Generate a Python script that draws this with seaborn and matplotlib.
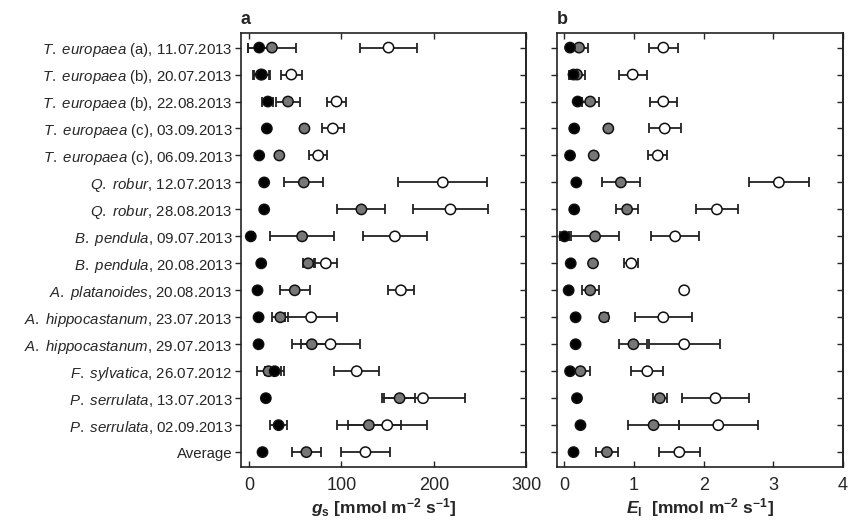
import numpy as np
import pandas as pd
import matplotlib
matplotlib.use("Agg")
import matplotlib.pyplot as plt
import seaborn as sns

# row labels (top to bottom)
species = ["T. europaea", "T. europaea", "T. europaea", "T. europaea", "T. europaea",
           "Q. robur", "Q. robur", "B. pendula", "B. pendula", "A. platanoides",
           "A. hippocastanum", "A. hippocastanum", "F. sylvatica", "P. serrulata",
           "P. serrulata", ""]
suffix = [" (a), 11.07.2013", " (b), 20.07.2013", " (b), 22.08.2013", " (c), 03.09.2013",
          " (c), 06.09.2013", ", 12.07.2013", ", 28.08.2013", ", 09.07.2013", ", 20.08.2013",
          ", 20.08.2013", ", 23.07.2013", ", 29.07.2013", ", 26.07.2012", ", 13.07.2013",
          ", 02.09.2013", "Average"]

# panel a: g_s (mean, error) for black / grey / white symbols
gs_black = [10.9, 13.8, 20.3, 19.2, 10.9, 16.3, 16.3, 1.8, 13.1, 9.1, 10.2, 10.2, 27.6, 18.1, 31.9, 14.5]
gs_black_err = [12, 9, 6, 0, 0, 0, 0, 2, 0, 0, 0, 0, 10, 0, 9, 0]
gs_grey = [24.7, 12.7, 42.1, 59.9, 32.7, 59.2, 121.6, 57.4, 63.9, 49.4, 33.8, 67.9, 21, 163, 129.7, 62]
gs_grey_err = [26, 9, 13, 0, 0, 21, 26, 34.5, 6, 16, 8.5, 22, 13, 17, 34.5, 16]
gs_white = [151, 45.7, 94.7, 90.7, 74.8, 209.8, 218.1, 157.9, 83.1, 164.4, 67.2, 88.2, 116.5, 188.4, 149.6, 126]
gs_white_err = [31, 11.6, 10, 11.8, 9.5, 48, 41, 34.5, 12, 14, 28, 31.6, 24.5, 45, 43, 27]

# panel b: E_l
el_black = [0.08, 0.13, 0.19, 0.14, 0.08, 0.17, 0.14, 0.0, 0.09, 0.06, 0.16, 0.16, 0.08, 0.18, 0.23, 0.13]
el_black_err = [0, 0.05, 0, 0, 0, 0, 0, 0.07, 0, 0, 0, 0, 0, 0, 0, 0]
el_grey = [0.21, 0.18, 0.37, 0.63, 0.42, 0.81, 0.9, 0.44, 0.41, 0.37, 0.57, 0.99, 0.23, 1.37, 1.28, 0.61]
el_grey_err = [0.13, 0.12, 0.12, 0, 0, 0.27, 0.16, 0.34, 0, 0.12, 0.05, 0.2, 0.13, 0.1, 0.37, 0.16]
el_white = [1.42, 0.98, 1.42, 1.44, 1.34, 3.08, 2.19, 1.59, 0.96, 1.72, 1.42, 1.72, 1.19, 2.17, 2.21, 1.65]
el_white_err = [0.21, 0.2, 0.19, 0.23, 0.14, 0.43, 0.3, 0.34, 0.1, 0.03, 0.41, 0.51, 0.23, 0.48, 0.57, 0.29]

sns.set_style("ticks")
plt.rcParams["font.family"] = ["Liberation Sans", "DejaVu Sans"]
plt.rcParams["mathtext.fontset"] = "custom"
plt.rcParams["mathtext.rm"] = "Liberation Sans"
plt.rcParams["mathtext.it"] = "Liberation Sans:italic"
plt.rcParams["mathtext.bf"] = "Liberation Sans:bold"
plt.rcParams["mathtext.bfit"] = "Liberation Sans:italic:bold"

rows = np.arange(len(species))
ylabels = []
for sp, sf in zip(species, suffix):
    if sp:
        ylabels.append(r"$\it{" + sp.replace(" ", r"\ ") + "}$" + sf)
    else:
        ylabels.append(sf)

palette = {"black": "black", "grey": "#777777", "white": "white"}


def panel(ax, series, xlim, xticks, xlabel, letter):
    frames = []
    for name in ["white", "grey", "black"]:
        mean, err = series[name]
        ax.errorbar(mean, rows, xerr=err, fmt="none", ecolor="#222222",
                    elinewidth=1.3, capsize=3.5, capthick=1.3, zorder=2)
        frames.append(pd.DataFrame({"x": mean, "y": rows, "group": name}))
    df = pd.concat(frames, ignore_index=True)
    sns.scatterplot(data=df, x="x", y="y", hue="group", palette=palette, s=55,
                    edgecolor="#111111", linewidth=1.1, legend=False, ax=ax, zorder=3)
    ax.set_xlim(*xlim)
    ax.set_ylim(15.55, -0.55)
    ax.set_xticks(xticks)
    ax.set_xticklabels([str(t) for t in xticks], fontsize=13)
    ax.set_yticks(rows)
    ax.set_xlabel(xlabel, fontsize=12.5, labelpad=2)
    ax.set_ylabel("")
    ax.tick_params(axis="x", direction="in", top=True, length=4, width=1, pad=7)
    ax.tick_params(axis="y", direction="out", length=4, width=1, labelsize=10.8, pad=2)
    sec = ax.secondary_yaxis("right")
    sec.set_yticks(rows)
    sec.set_yticklabels([])
    sec.tick_params(direction="in", length=4, width=1)
    sec.spines["right"].set_linewidth(1.2)
    for sp in ax.spines.values():
        sp.set_linewidth(1.2)
        sp.set_color("#222222")
    ax.text(0.0, 1.012, letter, transform=ax.transAxes, fontsize=13,
            fontweight="bold", ha="left", va="bottom")


fig = plt.figure(figsize=(8.54, 5.2), dpi=100)
ax_a = fig.add_axes([0.282, 0.102, 0.334, 0.835])
ax_b = fig.add_axes([0.652, 0.102, 0.335, 0.835])

panel(ax_a,
      {"black": (gs_black, gs_black_err), "grey": (gs_grey, gs_grey_err),
       "white": (gs_white, gs_white_err)},
      (-9, 300), [0, 100, 200, 300],
      r"$\mathbfit{g}_\mathbf{s}\ \mathbf{[mmol\ m^{-2}\ s^{-1}]}$", "a")
ax_a.set_yticklabels(ylabels)

panel(ax_b,
      {"black": (el_black, el_black_err), "grey": (el_grey, el_grey_err),
       "white": (el_white, el_white_err)},
      (-0.11, 4), [0, 1, 2, 3, 4],
      r"$\mathbfit{E}_\mathbf{l}\ \ \mathbf{[mmol\ m^{-2}\ s^{-1}]}$", "b")
ax_b.set_yticklabels([])

fig.savefig("out.png", dpi=100)
